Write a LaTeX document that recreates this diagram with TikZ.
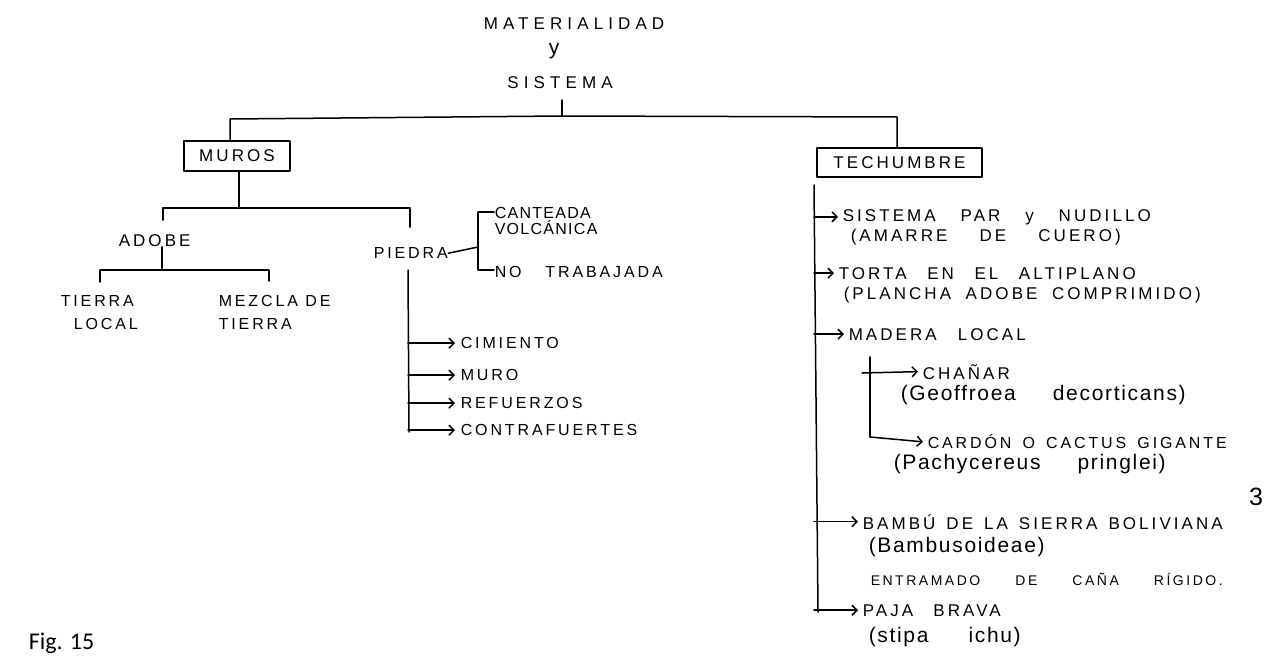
\documentclass[tikz,border=0pt]{standalone}
\usepackage{fontspec}
\setmainfont{Liberation Sans}
\newfontfamily\hand[LetterSpace=18]{Liberation Sans}
\newfontfamily\handwide[LetterSpace=30]{Liberation Sans}
\newfontfamily\handnarrow[LetterSpace=8]{Liberation Sans}
\newfontfamily\handlc[LetterSpace=8]{Liberation Sans}
\newfontfamily\figfont{Carlito}
\usetikzlibrary{arrows.meta}
% a line of words spread over a given width
\newcommand\spread[2]{\hbox to #1{#2}}
\begin{document}
\begin{tikzpicture}[x=1pt,y=-1pt,line width=1.5pt,line cap=round,line join=round,
  lbl/.style={inner sep=0pt,anchor=base west,yshift=-6pt,font=\hand\fontsize{17}{19}\selectfont},
  lblm/.style={lbl,yshift=-5.7pt,font=\hand\fontsize{16}{18}\selectfont},
  lbln/.style={lbl,yshift=-5.7pt,font=\handnarrow\fontsize{16}{18}\selectfont},
  lbls/.style={lbl,yshift=-5pt,font=\hand\fontsize{14}{16}\selectfont},
  latin/.style={inner sep=0pt,anchor=base west,yshift=-5.5pt,font=\handlc\fontsize{21}{23}\selectfont},
  title/.style={inner sep=0pt,font=\handwide\fontsize{17}{19}\selectfont},
  boxed/.style={draw,line width=1.7pt,inner sep=0pt,font=\hand\fontsize{17}{19}\selectfont},
  arr/.style={-{Straight Barb[length=5pt,width=10pt]}}]
\useasboundingbox (0,0) rectangle (1265,656);

% heading
\node[title] (mat) at (574,24) {MATERIALIDAD};
\node[inner sep=0pt,font=\hand\fontsize{21}{23}\selectfont] (yy) at (554,51) {y};
\node[title] (sis) at (560,83) {SISTEMA};
\coordinate (sisfoot) at (562,100);
\coordinate (hub) at (562,116);
\coordinate (jl) at (230,119);
\coordinate (jr) at (897,117);

% the two main branches
\node[boxed,minimum width=106pt,minimum height=30pt] (muros) at (237,156) {MUROS};
\node[boxed,minimum width=165pt,minimum height=29pt] (tech) at (899.5,162.5) {TECHUMBRE};
\draw (sisfoot) -- (hub);
\draw (jl |- muros.north) -- (jl) -- (hub) -- (jr) -- (jr |- tech.north);

% ---- MUROS ----
\coordinate (mj) at (239,208);
\coordinate (mjl) at (163,208);
\coordinate (mjr) at (410,208);
\node[lbl] (adobe) at (118,240) {ADOBE};
\node[lblm] (piedra) at (373,247) {PIEDRA};
\draw (muros.south -| mj) -- (mj);
\draw (163,220) -- (mjl) -- (mjr) -- (410,227);

% adobe
\coordinate (aj) at (162,270);
\draw (adobe.south -| aj) -- (aj);
\draw (100,282) -- (100,270) -- (269,270) -- (269,281);
\node[lblm] (tierra1) at (60,295) {TIERRA};
\node[lblm] (tierra2) at (73,318) {LOCAL};
\node[lblm] (mezcla1) at (218,295) {MEZCLA DE};
\node[lblm] (mezcla2) at (218,318) {TIERRA};

% piedra
\node[lbln] (cant1) at (494,207) {CANTEADA};
\node[lbln] (cant2) at (494,223) {VOLCÁNICA};
\node[lblm] (notrab) at (494,266) {\spread{168pt}{NO\hfill TRABAJADA}};
\coordinate (pb) at (478,247);
\draw (piedra.east) -- (pb);
\draw (cant1.west |- 0,212) -- (478,212) -- (478,270) -- (notrab.west |- 0,270);

\coordinate (pt) at (408,270);
\coordinate (pbot) at (409,432);
\draw (pt) -- (pbot);
\node[lblm] (cim) at (460,337) {CIMIENTO};
\node[lblm] (muro) at (460,369) {MURO};
\node[lblm] (ref) at (460,397) {REFUERZOS};
\node[lblm] (contra) at (460,424) {CONTRAFUERTES};
\foreach \n in {cim,muro,ref,contra}
  \draw[arr] (pt |- \n.west) -- ([xshift=-5pt]\n.west);

% ---- TECHUMBRE ----
\coordinate (tt) at (814,185);
\coordinate (tb) at (818,612);
\draw (tt) -- (tb);

\node[lbl] (spar1) at (842,215) {\spread{308pt}{SISTEMA\hfill PAR\hfill y\hfill NUDILLO}};
\node[lbl] (spar2) at (850,235) {\spread{270pt}{(AMARRE\hfill DE\hfill CUERO)}};
\node[lbl] (torta1) at (838,273) {\spread{297pt}{TORTA\hfill EN\hfill EL\hfill ALTIPLANO}};
\node[lbl] (torta2) at (843,293) {\spread{357pt}{(PLANCHA\hfill ADOBE\hfill COMPRIMIDO)}};
\node[lbl] (mad) at (848,334) {\spread{177pt}{MADERA\hfill LOCAL}};

\coordinate (st) at (870,357);
\coordinate (sb) at (870,437);
\node[lbl] (chan) at (922,373) {CHAÑAR};
\node[latin] (geo) at (900,395) {\spread{285pt}{(Geoffroea\hfill decorticans)}};
\node[lblm] (card) at (927,437) {\spread{299pt}{CARDÓN\hfill O\hfill CACTUS\hfill GIGANTE}};
\node[latin] (pach) at (893,464) {\spread{272pt}{(Pachycereus\hfill pringlei)}};
\draw (st) -- (sb);
\draw[arr] (862,373) -- ([xshift=-4pt]chan.west);
\draw[arr] (sb) -- ([xshift=-4pt]card.west);

\node[lbl] (bam1) at (862,523) {\spread{360pt}{BAMBÚ\hfill DE\hfill LA\hfill SIERRA\hfill BOLIVIANA}};
\node[latin] (bam2) at (868,547) {(Bambusoideae)};
\node[lbls] (bam3) at (870,574) {\spread{352pt}{ENTRAMADO\hfill DE\hfill CAÑA\hfill RÍGIDO.}};
\node[lbl] (paja1) at (862,610) {\spread{138pt}{PAJA\hfill BRAVA}};
\node[latin] (paja2) at (868,637) {\spread{152pt}{(stipa\hfill ichu)}};

\foreach \n in {spar1,torta1,mad,bam1,paja1}
  \draw[arr] (tt |- \n.west) -- ([xshift=-4pt]\n.west);

% page number and caption
\node[inner sep=0pt,font=\fontsize{25}{27}\selectfont] (pnum) at (1256,497) {3};
\node[inner sep=0pt,anchor=base west,font=\figfont\fontsize{24}{26}\selectfont] (fig) at (28,649) {Fig. 15};
\end{tikzpicture}
\end{document}
